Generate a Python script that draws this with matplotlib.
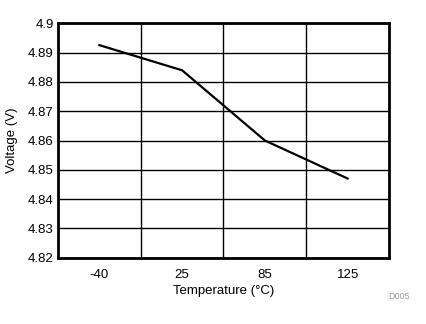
import matplotlib
matplotlib.use("Agg")
import matplotlib.pyplot as plt

plt.rcParams["font.family"] = ["Liberation Sans", "DejaVu Sans"]

# data
temps = ["-40", "25", "85", "125"]
voltage = [4.8926, 4.884, 4.860, 4.847]
y_ticks = [4.82, 4.83, 4.84, 4.85, 4.86, 4.87, 4.88, 4.89, 4.9]
y_tick_labels = ["4.82", "4.83", "4.84", "4.85", "4.86", "4.87", "4.88", "4.89", "4.9"]

fig = plt.figure(figsize=(4.27, 3.24), dpi=100)
ax = fig.add_axes([0.1358, 0.2052, 0.7752, 0.7223])

x = list(range(len(temps)))
ax.plot(x, voltage, color="black", linewidth=1.6, zorder=3)

ax.set_xlim(-0.5, len(temps) - 0.5)
ax.set_ylim(4.82, 4.9)
ax.set_xticks(x)
ax.set_xticklabels(temps)
ax.set_yticks(y_ticks)
ax.set_yticklabels(y_tick_labels)

# vertical grid lines sit between the categories
for gx in [0.5, 1.5, 2.5]:
    ax.axvline(gx, color="black", linewidth=1.0, zorder=1)
ax.grid(axis="y", color="black", linewidth=1.0)

ax.tick_params(length=0, labelsize=9.5, pad=3)
ax.tick_params(axis="x", pad=8)

for spine in ax.spines.values():
    spine.set_linewidth(2.0)

ax.set_xlabel("Temperature (°C)", fontsize=9.5, labelpad=3)
ax.set_ylabel("Voltage (V)", fontsize=9.5, labelpad=7)

fig.text(0.934, 0.084, "D005", fontsize=6.5, color="#999999", ha="center", va="center")

fig.savefig("out.png", dpi=100)
